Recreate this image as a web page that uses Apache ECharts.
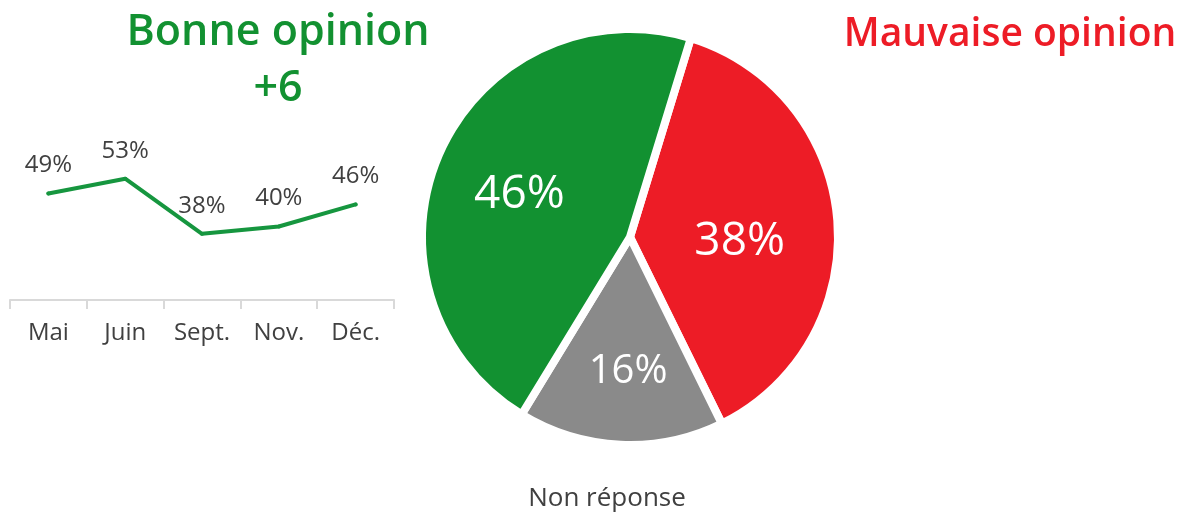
<!DOCTYPE html>
<html>
<head>
<meta charset="utf-8">
<script src="https://cdn.jsdelivr.net/npm/echarts@6/dist/echarts.min.js"></script>
<style>
  html, body { margin: 0; padding: 0; background: #fff; }
  #chart-box { width: 1180px; height: 517px; }
</style>
</head>
<body>
<div id="chart-box"></div>
<script>
// evolution of "bonne opinion"
var months = ['Mai', 'Juin', 'Sept.', 'Nov.', 'Déc.'];
var bonneTrend = [49, 53, 38, 40, 46];

// latest wave, order: mauvaise, non réponse, bonne (clockwise from the top)
var pieNames = ['Mauvaise opinion', 'Non réponse', 'Bonne opinion'];
var pieValues = [38, 16, 46];

var GREEN = '#129131';
var RED = '#ed1c26';
var GREY = '#8a8a8a';
var TEXT = '#404040';
var FONT = '"Open Sans", Lato, sans-serif';

var chartDom = document.getElementById('chart-box');
var chart = echarts.init(chartDom);

var pieColors = [RED, GREY, GREEN];
var pieLabelSize = [46, 40, 46];
// nudge the inside labels a bit (dx, dy)
var pieLabelShift = [[3, 13], [3, 28], [-13, 2]];

let option = {
  animation: false,
  title: [
    {
      text: 'Bonne opinion\n+6',
      left: 273,
      top: 0,
      textAlign: 'center',
      textStyle: { color: GREEN, fontSize: 43, fontWeight: 600, fontFamily: FONT, lineHeight: 56, align: 'center' }
    },
    {
      text: 'Mauvaise opinion',
      left: 1005,
      top: 2,
      textAlign: 'center',
      textStyle: { color: RED, fontSize: 39, fontWeight: 600, fontFamily: FONT, lineHeight: 56 }
    },
    {
      text: 'Non réponse',
      left: 602,
      top: 481,
      textAlign: 'center',
      textStyle: { color: TEXT, fontSize: 26, fontWeight: 'normal', fontFamily: FONT }
    }
  ],
  grid: {
    left: 10,
    width: 384,
    top: 153,
    bottom: 217,
    containLabel: false
  },
  xAxis: {
    type: 'category',
    data: months,
    boundaryGap: true,
    axisLine: { lineStyle: { color: '#d9d9d9', width: 2 } },
    axisTick: { show: true, length: 9, lineStyle: { color: '#d9d9d9', width: 2 } },
    axisLabel: { color: TEXT, fontSize: 24, fontFamily: FONT, margin: 21 }
  },
  yAxis: {
    type: 'value',
    min: 20,
    max: 60,
    show: false
  },
  series: [
    {
      type: 'line',
      data: bonneTrend,
      symbol: 'circle',
      symbolSize: 4,
      itemStyle: { color: '#16963f' },
      lineStyle: { color: '#16963f', width: 4, cap: 'round', join: 'round' },
      label: {
        show: true,
        position: 'top',
        distance: 14,
        formatter: '{c}%',
        color: TEXT,
        fontSize: 24,
        fontFamily: FONT
      }
    },
    {
      type: 'pie',
      center: [630, 237],
      radius: [0, 208],
      startAngle: 73,
      clockwise: true,
      silent: true,
      data: pieNames.map(function (n, i) {
        return {
          name: n,
          value: pieValues[i],
          itemStyle: { color: pieColors[i] },
          label: { fontSize: pieLabelSize[i] }
        };
      }),
      itemStyle: { borderColor: '#fff', borderWidth: 8 },
      label: {
        show: true,
        position: 'inside',
        formatter: '{c}%',
        color: '#fff',
        fontFamily: FONT,
        fontWeight: 500
      },
      labelLayout: function (params) {
        var s = pieLabelShift[params.dataIndex];
        return { dx: s[0], dy: s[1] };
      },
      labelLine: { show: false }
    }
  ]
};

option && chart.setOption(option);
</script>
</body>
</html>
